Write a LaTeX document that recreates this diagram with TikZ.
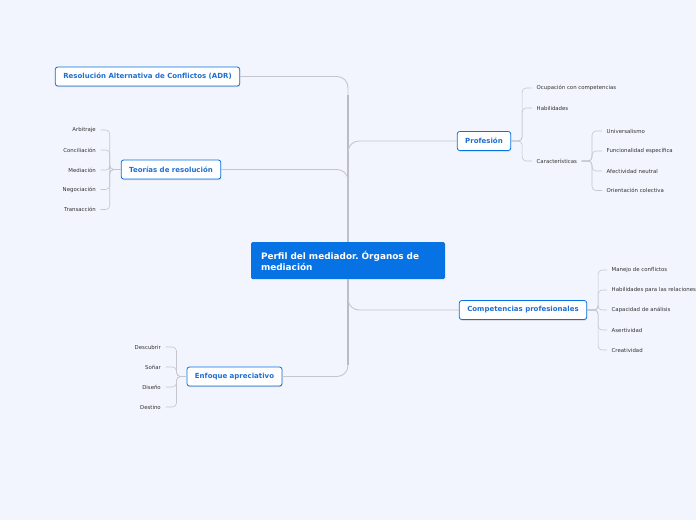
\documentclass[tikz,border=0pt]{standalone}
\usepackage{fontspec}
\setmainfont{DejaVu Sans}
\usepackage{tikz}
\usetikzlibrary{
    arrows.meta,
    positioning,
    calc,
    shadows
}
\frenchspacing
\definecolor{mmBack}{HTML}{F2F5FD}
\definecolor{mmBlue}{HTML}{0672E4}
\definecolor{mmText}{HTML}{1F6FD0}
\definecolor{mmLeaf}{HTML}{333333}
\definecolor{mmLine}{HTML}{C4C6CC}
\definecolor{mmTrunk}{HTML}{B6B8BC}

\tikzset{
    topic/.style={fill=mmBlue,text=white,rounded corners=1.5pt,align=left,
        inner xsep=10pt,text width=174pt,minimum height=37pt,
        font=\fontsize{8.9}{11}\selectfont\bfseries},
    mainbox/.style={fill=white,draw=mmBlue,line width=0.8pt,rounded corners=2.5pt,
        text=mmText,inner xsep=8pt,minimum height=19pt,
        drop shadow={shadow xshift=0.4pt,shadow yshift=-1pt,opacity=0.3,fill=gray},
        font=\fontsize{7}{8.5}\selectfont\bfseries},
    leaf/.style={text=mmLeaf,inner xsep=4.5pt,inner ysep=1pt,
        font=\fontsize{5.4}{6.5}\selectfont},
    branch/.style={draw=mmLine,line width=0.9pt,rounded corners=11pt},
    twig/.style={draw=mmLine,line width=0.6pt,rounded corners=4pt},
    trunkline/.style={draw=mmTrunk,line width=2pt}
}

\begin{document}
\begin{tikzpicture}[x=1pt,y=-1pt]
        % Canvas
        \useasboundingbox (0,0) rectangle (696,520);
        \fill[mmBack] (0,0) rectangle (696,520);

        % Central topic
        \node[topic] (center) at (348,260.5) {Perfil del mediador. Órganos de\\mediación};

        % Main topics
        \node[mainbox] (adr)  at (147.5,76.5) {Resolución Alternativa de Conflictos (ADR)};
        \node[mainbox] (teor) at (171,169.5)  {Teorías de resolución};
        \node[mainbox] (enf)  at (234.5,376.5) {Enfoque apreciativo};
        \node[mainbox] (prof) at (484,141)    {Profesión};
        \node[mainbox] (comp) at (523,310)    {Competencias profesionales};

        % Trunk and branches
        \draw[trunkline] (center.north) -- ++(0,-147);
        \draw[trunkline] (center.south) -- ++(0,86);
        \draw[branch] (center.north) |- (adr.east);
        \draw[branch] (center.north) |- (teor.east);
        \draw[branch] (center.north) |- (prof.west);
        \draw[branch] (center.south) |- (comp.west);
        \draw[branch] (center.south) |- (enf.east);

        % Teorias de resolucion
        \foreach \n/\y/\t in {ta/130/Arbitraje, tc/150/Conciliación, tm/170/Mediación,
                              tn/189.5/Negociación, tt/209.5/Transacción}{
            \node[leaf,anchor=east] (\n) at (100.5,\y) {\t};
            \draw[twig] (teor.west) -- ++(-11,0) |- (\n.east);
        }

        % Enfoque apreciativo
        \foreach \n/\y/\t in {ed/347/Descubrir, es/367/Soñar, ei/387/Diseño, et/407/Destino}{
            \node[leaf,anchor=east] (\n) at (165.5,\y) {\t};
            \draw[twig] (enf.west) -- ++(-10,0) |- (\n.east);
        }

        % Profesion
        \foreach \n/\y/\t in {po/88/Ocupación con competencias, ph/108/Habilidades,
                              pc/161/Características}{
            \node[leaf,anchor=west] (\n) at (532,\y) {\t};
            \draw[twig] (prof.east) -- ++(11,0) |- (\n.west);
        }
        \coordinate (cbr) at (592,161);
        \foreach \n/\y/\t in {cu/131/Universalismo, cf/151/Funcionalidad específica,
                              ca/171/Afectividad neutral, co/190.5/Orientación colectiva}{
            \node[leaf,anchor=west] (\n) at (602,\y) {\t};
            \draw[twig] (pc.east) -- (cbr) |- (\n.west);
        }

        % Competencias profesionales
        \foreach \n/\y/\t in {km/270/Manejo de conflictos, kh/290/Habilidades para las relaciones,
                              kc/310/Capacidad de análisis, ka/330/Asertividad,
                              kr/350/Creatividad}{
            \node[leaf,anchor=west] (\n) at (607,\y) {\t};
            \draw[twig] (comp.east) -- ++(11,0) |- (\n.west);
        }
    \end{tikzpicture}
\end{document}
